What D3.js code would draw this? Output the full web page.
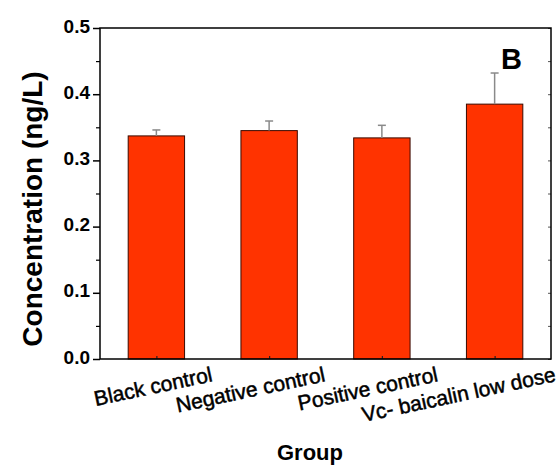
<!DOCTYPE html>
<html>
<head>
<meta charset="utf-8">
<script src="https://cdn.jsdelivr.net/npm/d3@7"></script>
<style>
  html, body { margin: 0; padding: 0; background: #fff; }
  svg { display: block; font-family: "Liberation Sans", Arial, Helvetica, sans-serif; }
</style>
</head>
<body>
<svg id="chart" width="559" height="469"></svg>
<script>
// Group means and upper error (SD) for the concentration assay
const categories = ["Black control", "Negative control", "Positive control", "Vc- baicalin low dose"];
const values = [0.337, 0.345, 0.334, 0.385];
const errors = [0.009, 0.0145, 0.019, 0.047];
const yTicks = [0.0, 0.1, 0.2, 0.3, 0.4, 0.5];
const yMinorTicks = [0.05, 0.15, 0.25, 0.35, 0.45];

const svg = d3.select("#chart");
const plot = { left: 100, right: 551, top: 28, bottom: 359 };

// Category axis runs 0.5..4.5 so each bar sits at an integer position
const x = d3.scaleLinear().domain([0.5, categories.length + 0.5]).range([plot.left, plot.right]);
const y = d3.scaleLinear().domain([0, 0.5]).range([plot.bottom, plot.top]);
const step = x(2) - x(1);
const barW = step * 0.5;

const data = categories.map((c, i) => ({ name: c, pos: i + 1, value: values[i], err: errors[i] }));

// Bars
svg.append("g").selectAll("rect").data(data).join("rect")
  .attr("x", d => x(d.pos) - barW / 2)
  .attr("y", d => y(d.value))
  .attr("width", barW)
  .attr("height", d => y(0) - y(d.value))
  .attr("fill", "#ff3300")
  .attr("stroke", "#3a0a00")
  .attr("stroke-width", 1);

// Upper error bars
const eb = svg.append("g").attr("stroke", "#8a8a8a").attr("stroke-width", 1.5);
eb.selectAll("line.v").data(data).join("line").attr("class", "v")
  .attr("x1", d => x(d.pos)).attr("x2", d => x(d.pos))
  .attr("y1", d => y(d.value)).attr("y2", d => y(d.value + d.err));
eb.selectAll("line.c").data(data).join("line").attr("class", "c")
  .attr("x1", d => x(d.pos) - 4).attr("x2", d => x(d.pos) + 4)
  .attr("y1", d => y(d.value + d.err)).attr("y2", d => y(d.value + d.err));

// Left axis with outward major/minor ticks
const yAxis = d3.axisLeft(y).tickValues(yTicks).tickFormat(d3.format(".1f")).tickSize(7).tickPadding(3);
const gy = svg.append("g").attr("transform", `translate(${plot.left},0)`).call(yAxis);
gy.select(".domain").remove();
gy.selectAll(".tick line").attr("stroke", "#000").attr("stroke-width", 1.5);
gy.selectAll(".tick text")
  .attr("font-size", 19).attr("font-weight", "bold").attr("fill", "#000")
  .attr("dy", "0.22em");
const yMinor = d3.axisLeft(y).tickValues(yMinorTicks).tickSize(4).tickFormat("");
const gym = svg.append("g").attr("transform", `translate(${plot.left},0)`).call(yMinor);
gym.select(".domain").remove();
gym.selectAll(".tick line").attr("stroke", "#000").attr("stroke-width", 1.2);

// Right axis: short inward ticks
const yRight = d3.axisRight(y).tickValues(yTicks.concat(yMinorTicks)).tickSize(-3).tickFormat("");
const gr = svg.append("g").attr("transform", `translate(${plot.right},0)`).call(yRight);
gr.select(".domain").remove();
gr.selectAll(".tick line").attr("stroke", "#555").attr("stroke-width", 1);

// Bottom axis: small ticks at category positions, labels set at an angle
const xAxis = d3.axisBottom(x).tickValues(data.map(d => d.pos)).tickSize(-3).tickFormat("");
const gx = svg.append("g").attr("transform", `translate(0,${plot.bottom})`).call(xAxis);
gx.select(".domain").remove();
gx.selectAll(".tick line").attr("stroke", "#222").attr("stroke-width", 1.2);

svg.append("g").selectAll("text").data(data).join("text")
  .attr("transform", (d, i) => `translate(${x(d.pos) + (i === 3 ? 62 : 57)},${plot.bottom + 22}) rotate(-12)`)
  .attr("text-anchor", "end")
  .attr("font-size", 21)
  .attr("fill", "#000")
  .attr("stroke", "#000").attr("stroke-width", 0.5)
  .text(d => d.name);

// Frame
svg.append("rect")
  .attr("x", plot.left).attr("y", plot.top)
  .attr("width", plot.right - plot.left).attr("height", plot.bottom - plot.top)
  .attr("fill", "none").attr("stroke", "#000").attr("stroke-width", 1.5);

// Axis titles
svg.append("text")
  .attr("transform", `translate(42,209) rotate(-90)`)
  .attr("text-anchor", "middle")
  .attr("font-size", 28).attr("font-weight", "bold").attr("fill", "#000")
  .text("Concentration (ng/L)");

svg.append("text")
  .attr("x", 310).attr("y", 460)
  .attr("text-anchor", "middle")
  .attr("font-size", 22).attr("font-weight", "bold").attr("fill", "#000")
  .text("Group");

// Panel letter
svg.append("text")
  .attr("x", 501).attr("y", 69)
  .attr("font-size", 29).attr("font-weight", "bold").attr("fill", "#000")
  .text("B");
</script>
</body>
</html>
